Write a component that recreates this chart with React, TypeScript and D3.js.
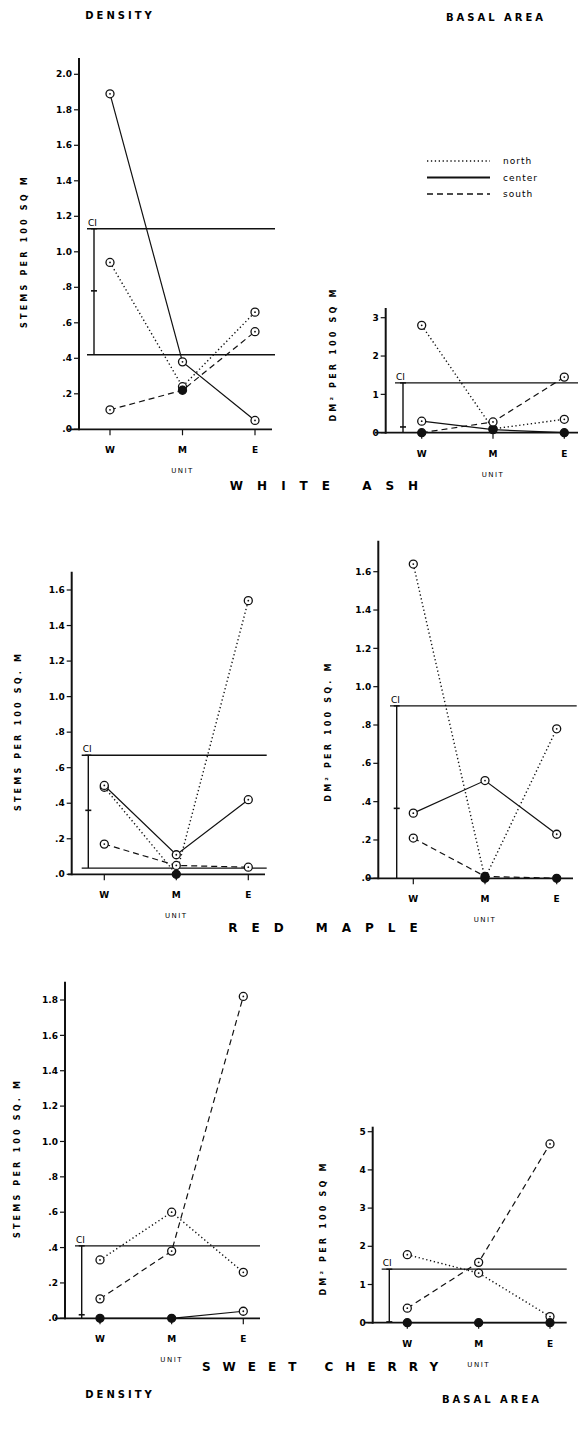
import * as d3 from "d3";

const units = ["W", "M", "E"];

// white ash
const ashDensityNorth = [0.94, 0.24, 0.66];
const ashDensityCenter = [1.89, 0.38, 0.05];
const ashDensitySouth = [0.11, 0.22, 0.55];
const ashDensityCI = [0.42, 0.78, 1.13]; // lower, mean, upper
const ashBasalNorth = [2.8, 0.1, 0.35];
const ashBasalCenter = [0.3, 0.08, 0];
const ashBasalSouth = [0, 0.28, 1.45];
const ashBasalCI = [0, 0.15, 1.3];

// red maple
const mapleDensityNorth = [0.49, 0, 1.54];
const mapleDensityCenter = [0.5, 0.11, 0.42];
const mapleDensitySouth = [0.17, 0.05, 0.04];
const mapleDensityCI = [0.035, 0.36, 0.67];
const mapleBasalNorth = [1.64, 0, 0.78];
const mapleBasalCenter = [0.34, 0.51, 0.23];
const mapleBasalSouth = [0.21, 0.01, 0];
const mapleBasalCI = [0, 0.365, 0.9];

// sweet cherry
const cherryDensityNorth = [0.33, 0.6, 0.26];
const cherryDensityCenter = [0, 0, 0.04];
const cherryDensitySouth = [0.11, 0.38, 1.82];
const cherryDensityCI = [0, 0.02, 0.41];
const cherryBasalNorth = [1.78, 1.3, 0.16];
const cherryBasalCenter = [0, 0, 0];
const cherryBasalSouth = [0.38, 1.58, 4.68];
const cherryBasalCI = [0, 0.02, 1.4];

const ticksAshDensity = [0, 0.2, 0.4, 0.6, 0.8, 1.0, 1.2, 1.4, 1.6, 1.8, 2.0];
const ticksAshBasal = [0, 1, 2, 3];
const ticksMapleDensity = [0, 0.2, 0.4, 0.6, 0.8, 1.0, 1.2, 1.4, 1.6];
const ticksMapleBasal = [0, 0.2, 0.4, 0.6, 0.8, 1.0, 1.2, 1.4, 1.6];
const ticksCherryDensity = [0, 0.2, 0.4, 0.6, 0.8, 1.0, 1.2, 1.4, 1.6, 1.8];
const ticksCherryBasal = [0, 1, 2, 3, 4, 5];

const legendNames = ["north", "center", "south"];
const dash = { north: "1.3,2.6", center: null, south: "6,4" };

const decFmt = (v) => {
  const s = d3.format(".1f")(v);
  return s.startsWith("0") ? s.slice(1) : s;
};
const intFmt = d3.format("d");

const FONT = "'DejaVu Sans', sans-serif";

function Panel({ L, north, center, south, ci, ticks, fmt, yLabel, filled = [] }) {
  const x = d3.scalePoint().domain(units).range([L.xW, L.xE]);
  const y = d3
    .scaleLinear()
    .domain([0, ticks[ticks.length - 1]])
    .range([L.y0, L.yTick]);
  const line = d3
    .line<number>()
    .x((_, i) => x(units[i]))
    .y((d) => y(d));

  const series = [
    { key: "north", vals: north },
    { key: "center", vals: center },
    { key: "south", vals: south },
  ];

  return (
    <g>
      {/* CI limits */}
      <line x1={L.ci0} x2={L.ci1} y1={y(ci[2])} y2={y(ci[2])} stroke="#111" strokeWidth={1.3} />
      {ci[0] > 0 && (
        <line x1={L.ci0} x2={L.ci1} y1={y(ci[0])} y2={y(ci[0])} stroke="#111" strokeWidth={1.3} />
      )}
      <line x1={L.ciBar} x2={L.ciBar} y1={y(ci[2])} y2={y(ci[0])} stroke="#111" strokeWidth={1.4} />
      <line x1={L.ciBar - 3} x2={L.ciBar + 3} y1={y(ci[2])} y2={y(ci[2])} stroke="#111" strokeWidth={1.4} />
      <line x1={L.ciBar - 3} x2={L.ciBar + 3} y1={y(ci[1])} y2={y(ci[1])} stroke="#111" strokeWidth={1.6} />
      <text x={L.ci0 + 1} y={y(ci[2]) - 3} fontSize={9} fontFamily={FONT}>CI</text>

      {/* series */}
      {series.map((s) => (
        <path
          key={s.key}
          d={line(s.vals)}
          fill="none"
          stroke="#111"
          strokeWidth={s.key === "north" ? 1.4 : 1.2}
          strokeDasharray={dash[s.key] || undefined}
        />
      ))}
      {series.map((s) =>
        s.vals.map((v, i) => {
          const solid = v === 0 || filled.includes(s.key + i);
          return (
            <g key={s.key + i}>
              <circle
                cx={x(units[i])}
                cy={y(v)}
                r={4}
                fill={solid ? "#111" : "#fff"}
                stroke="#111"
                strokeWidth={1.3}
              />
              {!solid && <circle cx={x(units[i])} cy={y(v)} r={0.9} fill="#111" />}
            </g>
          );
        })
      )}

      {/* y axis */}
      <line x1={L.ax} x2={L.ax} y1={L.yTop} y2={L.y0 + 1} stroke="#111" strokeWidth={2} />
      {ticks.map((t) => (
        <g key={t}>
          <line x1={L.ax - 5} x2={L.ax} y1={y(t)} y2={y(t)} stroke="#111" strokeWidth={1.2} />
          <text
            x={L.ax - 7}
            y={y(t)}
            dy="0.35em"
            textAnchor="end"
            fontSize={9}
            fontWeight="bold"
            fontFamily={FONT}
          >
            {fmt(t)}
          </text>
        </g>
      ))}
      <text
        transform={`translate(${L.labX},${L.labY}) rotate(-90)`}
        textAnchor="middle"
        dy="0.35em"
        fontSize={8}
        fontWeight="bold"
        letterSpacing={3.2}
        fontFamily={FONT}
      >
        {yLabel}
      </text>

      {/* x axis */}
      <line x1={L.b0} x2={L.b1} y1={L.y0} y2={L.y0} stroke="#111" strokeWidth={1.8} />
      {units.map((u) => (
        <g key={u}>
          <line x1={x(u)} x2={x(u)} y1={L.y0} y2={L.y0 + 6} stroke="#111" strokeWidth={1.2} />
          <text
            x={x(u)}
            y={L.y0 + 24}
            textAnchor="middle"
            fontSize={9}
            fontWeight="bold"
            fontFamily={FONT}
          >
            {u}
          </text>
        </g>
      ))}
      <text
        x={x("M")}
        y={L.y0 + 44}
        textAnchor="middle"
        fontSize={7}
        letterSpacing={1.5}
        fontFamily={FONT}
      >
        UNIT
      </text>
    </g>
  );
}

const layouts = {
  ashD: { xW: 110, xE: 255, y0: 429.3, yTick: 74.3, yTop: 58, ax: 79, b0: 68, b1: 272, ci0: 87, ci1: 275, ciBar: 94, labX: 24, labY: 251 },
  ashB: { xW: 421.7, xE: 564.3, y0: 432.7, yTick: 317.7, yTop: 308, ax: 385.7, b0: 375, b1: 578, ci0: 395, ci1: 578, ciBar: 403, labX: 333, labY: 354 },
  mapleD: { xW: 104.3, xE: 248.3, y0: 874.3, yTick: 590, yTop: 571.7, ax: 71.7, b0: 68, b1: 265, ci0: 81.7, ci1: 266.7, ciBar: 88.3, labX: 18, labY: 731 },
  mapleB: { xW: 413.3, xE: 556.7, y0: 878.3, yTick: 571.7, yTop: 540.7, ax: 378.3, b0: 366.7, b1: 573, ci0: 390, ci1: 576.7, ciBar: 396.7, labX: 328, labY: 731 },
  cherryD: { xW: 100, xE: 243.3, y0: 1318.3, yTick: 1000, yTop: 981.7, ax: 65, b0: 55, b1: 260, ci0: 75, ci1: 260, ciBar: 81.7, labX: 17, labY: 1158 },
  cherryB: { xW: 407.3, xE: 550, y0: 1322.7, yTick: 1131.7, yTop: 1126.7, ax: 372.7, b0: 365, b1: 566.7, ci0: 381.7, ci1: 566.7, ciBar: 389.3, labX: 323, labY: 1228 },
};

function Title({ x, y, text, size, spacing }) {
  return (
    <text
      x={x}
      y={y}
      textAnchor="middle"
      fontSize={size}
      fontWeight="bold"
      letterSpacing={spacing}
      fontFamily={FONT}
    >
      {text}
    </text>
  );
}

export default function App() {
  return (
    <svg
      width={578}
      height={1432}
      style={{ position: "absolute", left: 0, top: 0, background: "#fff" }}
    >
      <rect width={578} height={1432} fill="#fff" />
      <Title x={120} y={19} text="DENSITY" size={10} spacing={3} />
      <Title x={496} y={21} text="BASAL AREA" size={10} spacing={3} />

      {/* legend */}
      {legendNames.map((n, i) => (
        <g key={n}>
          <line
            x1={427}
            x2={490}
            y1={161 + i * 16.5}
            y2={161 + i * 16.5}
            stroke="#111"
            strokeWidth={n === "center" ? 2 : 1.4}
            strokeDasharray={dash[n] || undefined}
          />
          <text x={503} y={161 + i * 16.5} dy="0.35em" fontSize={9} letterSpacing={1} fontFamily={FONT}>
            {n}
          </text>
        </g>
      ))}

      <Panel L={layouts.ashD} north={ashDensityNorth} center={ashDensityCenter} south={ashDensitySouth} ci={ashDensityCI} ticks={ticksAshDensity} fmt={decFmt} yLabel="STEMS PER 100 SQ M" filled={["south1"]} />
      <Panel L={layouts.ashB} north={ashBasalNorth} center={ashBasalCenter} south={ashBasalSouth} ci={ashBasalCI} ticks={ticksAshBasal} fmt={intFmt} yLabel="DM² PER 100 SQ M" filled={["center1"]} />
      <Title x={331} y={490} text="WHITE  ASH" size={12} spacing={14} />

      <Panel L={layouts.mapleD} north={mapleDensityNorth} center={mapleDensityCenter} south={mapleDensitySouth} ci={mapleDensityCI} ticks={ticksMapleDensity} fmt={decFmt} yLabel="STEMS PER 100 SQ. M" />
      <Panel L={layouts.mapleB} north={mapleBasalNorth} center={mapleBasalCenter} south={mapleBasalSouth} ci={mapleBasalCI} ticks={ticksMapleBasal} fmt={decFmt} yLabel="DM² PER 100 SQ. M" filled={["south1"]} />
      <Title x={330} y={932} text="RED  MAPLE" size={12} spacing={14} />

      <Panel L={layouts.cherryD} north={cherryDensityNorth} center={cherryDensityCenter} south={cherryDensitySouth} ci={cherryDensityCI} ticks={ticksCherryDensity} fmt={decFmt} yLabel="STEMS PER 100 SQ. M" />
      <Panel L={layouts.cherryB} north={cherryBasalNorth} center={cherryBasalCenter} south={cherryBasalSouth} ci={cherryBasalCI} ticks={ticksCherryBasal} fmt={intFmt} yLabel="DM² PER 100 SQ M" />
      <Title x={326} y={1371} text="SWEET  CHERRY" size={12} spacing={12} />

      <Title x={120} y={1398} text="DENSITY" size={10} spacing={3} />
      <Title x={492} y={1403} text="BASAL AREA" size={10} spacing={3} />
    </svg>
  );
}
